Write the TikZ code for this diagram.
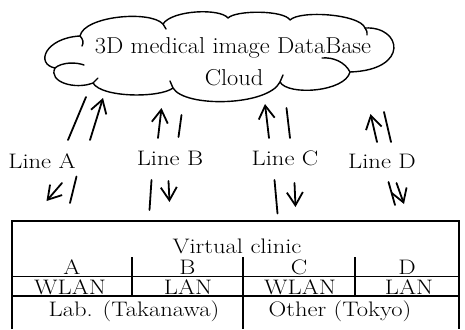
\documentclass[tikz,border=0pt]{standalone}
\usepackage{graphicx}
\usetikzlibrary{arrows.meta}
\newcommand{\wtxt}[1]{\scalebox{1.17}[1]{#1}}
\newcommand{\wctxt}[1]{\scalebox{1.06}[1]{#1}}
\begin{document}
\begin{tikzpicture}[x=1pt,y=-1pt,
  cloudline/.style={line width=1.4pt,line join=round,line cap=round},
  curl/.style={line width=1.4pt,line cap=round},
  txt/.style={inner sep=0pt,font=\fontsize{21}{25}\selectfont},
  cloudtxt/.style={inner sep=0pt,font=\fontsize{23}{27}\selectfont},
  uparrow/.style={line width=1.8pt,line cap=round,-{Straight Barb[length=13pt,width=16pt,line width=1.8pt]}},
  plainline/.style={line width=1.8pt,line cap=round},
  grid/.style={line width=1.4pt}]
\useasboundingbox (0,0) rectangle (465,329);

% cloud outline
\draw[cloudline] (55,68)
  .. controls (35,64) and (45,38) .. (80,36)
  .. controls (84,16) and (150,10) .. (163,24)
  .. controls (172,10) and (220,8) .. (228,18)
  .. controls (236,10) and (284,10) .. (290,20)
  .. controls (300,10) and (360,14) .. (365,28)
  .. controls (402,26) and (410,70) .. (350,72)
  .. controls (345,92) and (288,96) .. (280,82)
  .. controls (268,106) and (185,108) .. (173,88)
  .. controls (160,98) and (102,98) .. (93,83)
  .. controls (75,90) and (48,82) .. (55,68) -- cycle;
% inner curls of the cloud
\draw[curl] (80,36) .. controls (83,39) and (84,43) .. (82,46);
\draw[curl] (55,68) .. controls (62,62) and (76,62) .. (84,65);
\draw[curl] (350,72) .. controls (345,62) and (333,57) .. (322,58);
\draw[curl] (280,82) .. controls (281,79) .. (283,75);
\draw[curl] (173,88) .. controls (172,85) .. (170,81);
\draw[curl] (93,83) .. controls (95,80) .. (98,78);
\draw[curl] (365,28) .. controls (367,31) .. (367,35);
\draw[curl] (163,24) .. controls (164,27) .. (166,29);

\node[cloudtxt] (db) at (233,48) {\wctxt{3D medical image DataBase}};
\node[cloudtxt] (cl) at (234,78) {\wctxt{Cloud}};

% line labels
\node[txt] (la) at (42,161) {\wtxt{Line A}};
\node[txt] (lb) at (170,158) {\wtxt{Line B}};
\node[txt] (lc) at (285,158) {\wtxt{Line C}};
\node[txt] (ld) at (382,161) {\wtxt{Line D}};

% arrow end points
\coordinate (aus) at (90,140);   \coordinate (aue) at (103,98);
\coordinate (aps) at (68,140);   \coordinate (ape) at (86,97);
\coordinate (bus) at (158,138);  \coordinate (bue) at (161.5,108);
\coordinate (bps) at (178.5,137);\coordinate (bpe) at (181.5,115);
\coordinate (cus) at (269,138);  \coordinate (cue) at (265,104);
\coordinate (cps) at (290,138);  \coordinate (cpe) at (286.5,108);
\coordinate (dus) at (377,142);  \coordinate (due) at (370.5,114);
\coordinate (dps) at (391,142);  \coordinate (dpe) at (384,112);
\coordinate (ads) at (62,183);   \coordinate (ade) at (46.5,201);
\coordinate (aqs) at (76.5,176.5); \coordinate (aqe) at (70,203);
\coordinate (bds) at (168.5,181); \coordinate (bde) at (169.5,202);
\coordinate (bqs) at (151.5,180);   \coordinate (bqe) at (149.5,210);
\coordinate (cds) at (294.5,183);   \coordinate (cde) at (295.5,207);
\coordinate (cqs) at (274.5,180);   \coordinate (cqe) at (277.5,213.5);
\coordinate (dds) at (396.5,183);   \coordinate (dde) at (404,204);
\coordinate (dqs) at (388.5,182);   \coordinate (dqe) at (395,205);

\draw[uparrow] (aus) -- (aue);  \draw[plainline] (aps) -- (ape);
\draw[uparrow] (bus) -- (bue);  \draw[plainline] (bps) -- (bpe);
\draw[uparrow] (cus) -- (cue);  \draw[plainline] (cps) -- (cpe);
\draw[uparrow] (dus) -- (due);  \draw[plainline] (dps) -- (dpe);
\draw[uparrow] (ads) -- (ade);  \draw[plainline] (aqs) -- (aqe);
\draw[uparrow] (bds) -- (bde);  \draw[plainline] (bqs) -- (bqe);
\draw[uparrow] (cds) -- (cde);  \draw[plainline] (cqs) -- (cqe);
\draw[uparrow] (dds) -- (dde);  \draw[plainline] (dqs) -- (dqe);

% table
\draw[grid] (12,329) -- (12,221) -- (459,221) -- (459,329);
\draw[grid] (12,276.5) -- (459,276.5);
\draw[grid] (12,296) -- (459,296);
\draw[grid] (132,257) -- (132,296);
\draw[grid] (243,257) -- (243,329);
\draw[grid] (355,257) -- (355,296);

\node[txt] (vc) at (237,246.5) {\wtxt{Virtual clinic}};
\node[txt] (ca) at (72,267) {\wtxt{A}};
\node[txt] (cb) at (187.5,267) {\wtxt{B}};
\node[txt] (cc) at (299,267) {\wtxt{C}};
\node[txt] (cd) at (407,267) {\wtxt{D}};
\node[txt] (wa) at (70,287) {\wtxt{WLAN}};
\node[txt] (wb) at (188,287) {\wtxt{LAN}};
\node[txt] (wc) at (300,287) {\wtxt{WLAN}};
\node[txt] (wd) at (409,287) {\wtxt{LAN}};
\node[txt] (lt) at (134,311) {\wtxt{Lab. (Takanawa)}};
\node[txt] (ot) at (340,311) {\wtxt{Other (Tokyo)}};
\end{tikzpicture}
\end{document}
